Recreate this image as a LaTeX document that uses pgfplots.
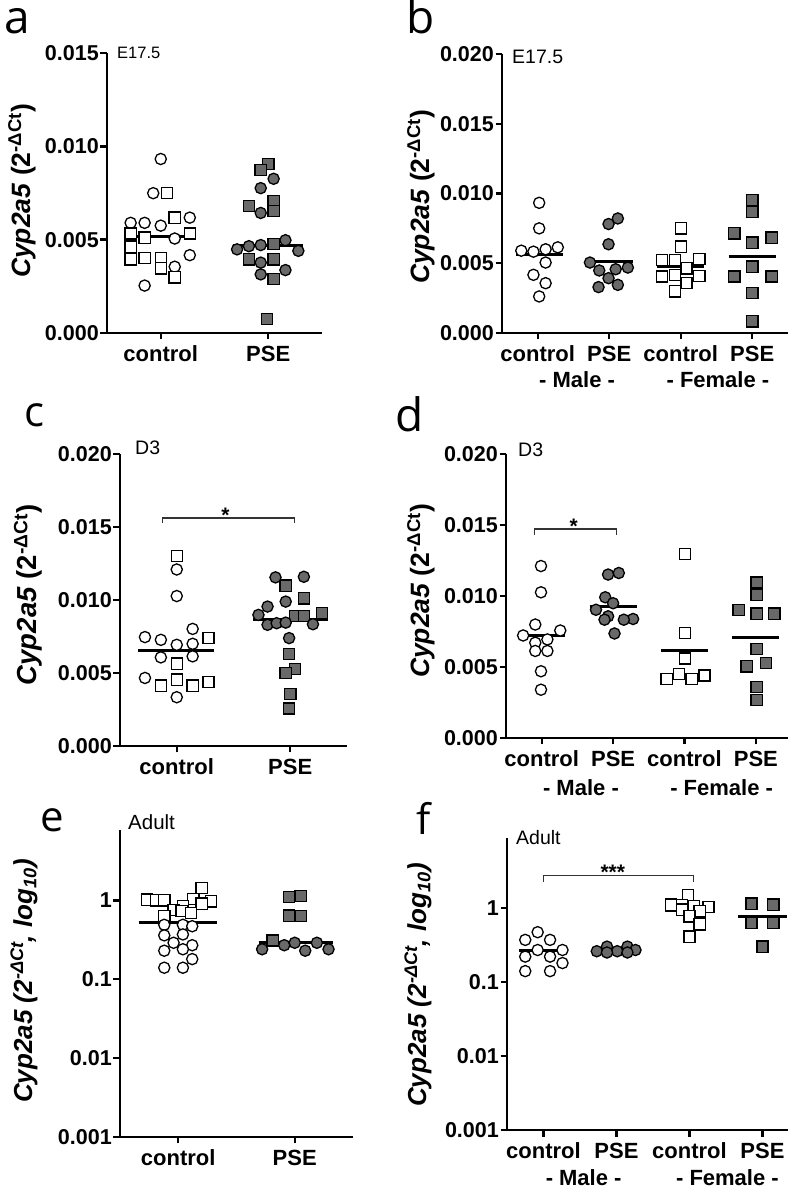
\documentclass[border=0pt]{standalone}
\usepackage{fontspec}
\setmainfont{Liberation Sans}
\newfontfamily\letterfont{Open Sans}
\usepackage{pgfplots}
\pgfplotsset{compat=1.18}
\definecolor{pgray}{RGB}{105,105,105}

\pgfplotsset{
  panel/.style={scale only axis, clip=false, axis lines*=left,
    axis line style={line width=2.6pt}, tick align=outside,
    major tick length=6.5pt, tick style={line width=2.4pt, black},
    xmin=-0.5, scaled y ticks=false,
    yticklabel style={font=\fontsize{21.5}{24}\selectfont\bfseries, inner sep=1.5pt},
    xticklabel style={font=\fontsize{22}{25}\selectfont\bfseries, yshift=-3pt}},
  oc/.style={only marks, mark=*, mark size=5.6pt, mark options={fill=white, draw=black, line width=1.3pt}},
  fc/.style={only marks, mark=*, mark size=5.6pt, mark options={fill=pgray, draw=black, line width=1.3pt}},
  os/.style={only marks, mark=square*, mark size=5.6pt, mark options={fill=white, draw=black, line width=1.3pt}},
  fs/.style={only marks, mark=square*, mark size=5.6pt, mark options={fill=pgray, draw=black, line width=1.3pt}},
  med/.style={black, line width=3pt, no marks},
}
\newcommand{\ylab}{\textbf{\textit{Cyp2a5} (2\textsuperscript{-ΔCt})}}
\newcommand{\yloglab}{\bfseries\itshape Cyp2a5 (2\textsuperscript{-ΔCt}, log\textsubscript{10})}
\newcommand{\tfont}{\fontsize{22}{25}\selectfont\bfseries}

\begin{document}
\begin{tikzpicture}
\path[use as bounding box] (0pt,0pt) rectangle (800pt,1191pt);

% ---------- a ----------
\begin{axis}[panel, at={(107pt,858pt)}, anchor=south west, width=215pt, height=280pt,
  xmax=1.5, ymin=0, ymax=0.015,
  ytick={0,0.005,0.010,0.015}, yticklabels={0.000,0.005,0.010,0.015},
  xtick={0,1}, xticklabels={control,PSE}]
\addplot[oc] coordinates {(0,0.00932) (-0.07,0.00749) (-0.28,0.00590) (-0.15,0.00590) (0,0.00575)
  (0.27,0.00618) (0.13,0.00506) (0.13,0.00355) (0.27,0.00417) (-0.15,0.00254)};
\addplot[os] coordinates {(0.06,0.00749) (0.13,0.00618) (-0.28,0.00533) (-0.15,0.00511) (0.27,0.00533)
  (-0.28,0.00462) (-0.28,0.00394) (-0.15,0.00403) (0,0.00403) (0,0.00346) (0.13,0.00298)};
\addplot[fs] coordinates {(1.0,0.00906) (0.93,0.00874) (0.82,0.00680) (1.05,0.00705) (1.05,0.00654)
  (1.05,0.00476) (0.82,0.00394) (1.05,0.00394) (1.05,0.00288) (0.99,0.00075)};
\addplot[fc] coordinates {(1.05,0.00826) (0.93,0.00776) (0.93,0.00643) (0.71,0.00448) (0.82,0.00465)
  (0.93,0.00471) (1.16,0.00497) (1.28,0.00440) (0.93,0.00377) (0.93,0.00314) (1.16,0.00337)};
\addplot[med] coordinates {(-0.33,0.00515) (0.33,0.00515)};
\addplot[med] coordinates {(0.67,0.00471) (1.32,0.00471)};
\end{axis}

% ---------- b ----------
\begin{axis}[panel, at={(502pt,858pt)}, anchor=south west, width=286pt, height=279pt,
  xmax=3.5, ymin=0, ymax=0.020,
  ytick={0,0.005,0.010,0.015,0.020}, yticklabels={0.000,0.005,0.010,0.015,0.020},
  xtick={0,1,2,3}, xticklabels={control,PSE,control,PSE}]
\addplot[oc] coordinates {(0.02,0.00933) (0.02,0.00750) (-0.23,0.00590) (-0.06,0.00583) (0.11,0.00600)
  (0.28,0.00614) (0.11,0.00505) (-0.06,0.00417) (0.11,0.00357) (0.02,0.00262)};
\addplot[fc] coordinates {(1.12,0.00821) (0.99,0.00781) (0.99,0.00636) (0.73,0.00505) (0.86,0.00448)
  (1.09,0.00457) (1.26,0.00469) (0.99,0.00393) (0.85,0.00329) (1.12,0.00345)};
\addplot[os] coordinates {(2.0,0.00750) (2.0,0.00619) (1.74,0.00524) (1.92,0.00524) (2.26,0.00529)
  (2.08,0.00464) (1.74,0.00405) (1.92,0.00417) (2.26,0.00410) (2.08,0.00357) (1.92,0.00298)};
\addplot[fs] coordinates {(3.0,0.00952) (3.0,0.00869) (2.75,0.00714) (3.27,0.00683) (3.0,0.00648)
  (3.0,0.00476) (2.75,0.00405) (3.27,0.00405) (3.0,0.00286) (3.0,0.00083)};
\addplot[med] coordinates {(-0.31,0.00560) (0.35,0.00560)};
\addplot[med] coordinates {(0.69,0.00512) (1.33,0.00512)};
\addplot[med] coordinates {(1.67,0.00476) (2.33,0.00476)};
\addplot[med] coordinates {(2.67,0.00548) (3.33,0.00548)};
\node[font=\tfont] at (axis cs:0.55,0) [yshift=-47pt] {- Male -};
\node[font=\tfont] at (axis cs:2.52,0) [yshift=-47pt] {- Female -};
\end{axis}

% ---------- c ----------
\begin{axis}[panel, at={(120pt,445pt)}, anchor=south west, width=227pt, height=292pt,
  xmax=1.5, ymin=0, ymax=0.020,
  ytick={0,0.005,0.010,0.015,0.020}, yticklabels={0.000,0.005,0.010,0.015,0.020},
  xtick={0,1}, xticklabels={control,PSE}]
\addplot[oc] coordinates {(0,0.01209) (0,0.01027) (-0.28,0.00746) (-0.14,0.00727) (0.14,0.00802)
  (0,0.00693) (0.14,0.00700) (-0.14,0.00607) (0.14,0.00614) (-0.28,0.00466) (0,0.00334)};
\addplot[os] coordinates {(0,0.01300) (0.28,0.00739) (0,0.00564) (-0.14,0.00414) (0,0.00455)
  (0.14,0.00414) (0.28,0.00439)};
\addplot[fs] coordinates {(0.96,0.01098) (1.12,0.01011) (1.04,0.00891) (1.12,0.00891) (1.28,0.00909)
  (0.99,0.00630) (1.04,0.00527) (0.96,0.00500) (1.0,0.00357) (0.99,0.00257)};
\addplot[fc] coordinates {(0.87,0.01155) (1.12,0.01159) (0.80,0.00955) (0.96,0.00989) (0.72,0.00898)
  (0.80,0.00830) (0.88,0.00841) (0.96,0.00845) (1.2,0.00834) (0.99,0.00739)};
\addplot[med] coordinates {(-0.34,0.00655) (0.33,0.00655)};
\addplot[med] coordinates {(0.67,0.00868) (1.33,0.00868)};
\draw[line width=1.2pt, black!80] (axis cs:-0.125,0.01527) |- (axis cs:1.04,0.01562) -- (axis cs:1.04,0.01527);
\node[font=\fontsize{21}{21}\selectfont\bfseries, anchor=base, yshift=-5pt] at (axis cs:0.43,0.01562) {*};
\end{axis}

% ---------- d ----------
\begin{axis}[panel, at={(506pt,453pt)}, anchor=south west, width=282pt, height=284pt,
  xmax=3.45, ymin=0, ymax=0.020,
  ytick={0,0.005,0.010,0.015,0.020}, yticklabels={0.000,0.005,0.010,0.015,0.020},
  xtick={0,1,2,3}, xticklabels={control,PSE,control,PSE}]
\addplot[oc] coordinates {(-0.01,0.01211) (-0.01,0.01026) (-0.09,0.00799) (-0.26,0.00722) (0.26,0.00757)
  (0.08,0.00694) (-0.09,0.00671) (0.08,0.00613) (-0.09,0.00613) (-0.01,0.00470) (-0.01,0.00340)};
\addplot[fc] coordinates {(0.93,0.01151) (1.08,0.01162) (0.89,0.00991) (1.0,0.00949) (0.76,0.00903)
  (0.93,0.00857) (1.28,0.00838) (1.15,0.00833) (0.88,0.00833) (1.02,0.00736)};
\addplot[os] coordinates {(2.01,0.01296) (2.01,0.00741) (2.01,0.00560) (1.75,0.00417) (1.92,0.00451)
  (2.1,0.00417) (2.28,0.00440)};
\addplot[fs] coordinates {(3.01,0.01095) (3.01,0.01007) (2.76,0.00903) (3.01,0.00875) (3.26,0.00875)
  (3.01,0.00625) (2.87,0.00505) (3.14,0.00528) (3.01,0.00359) (3.01,0.00266)};
\addplot[med] coordinates {(-0.33,0.00725) (0.33,0.00725)};
\addplot[med] coordinates {(0.67,0.00926) (1.33,0.00926)};
\addplot[med] coordinates {(1.67,0.00618) (2.33,0.00618)};
\addplot[med] coordinates {(2.67,0.00706) (3.33,0.00706)};
\draw[line width=1.2pt, black!80] (axis cs:-0.1,0.0143) |- (axis cs:1.05,0.01472) -- (axis cs:1.05,0.0143);
\node[font=\fontsize{21}{21}\selectfont\bfseries, anchor=base, yshift=-5pt] at (axis cs:0.45,0.01472) {*};
\node[font=\tfont] at (axis cs:0.55,0) [yshift=-50pt] {- Male -};
\node[font=\tfont] at (axis cs:2.52,0) [yshift=-50pt] {- Female -};
\end{axis}

% ---------- e ----------
\begin{axis}[panel, at={(120pt,54pt)}, anchor=south west, width=233pt, height=307pt,
  xmax=1.5, ymode=log, ymin=0.001, ymax=7.8, yminorticks=false,
  ytick={0.001,0.01,0.1,1}, yticklabels={0.001,0.01,0.1,1},
  xtick={0,1}, xticklabels={control,PSE}]
\addplot[os] coordinates {(-0.27,1.02) (-0.19,1.0) (-0.12,1.0) (0.2,1.43) (0.13,1.04) (0.28,0.97)
  (0.2,0.91) (0.04,0.84) (-0.04,0.76) (0.03,0.73) (0.11,0.69) (-0.12,0.63)};
\addplot[oc] coordinates {(-0.12,0.49) (0.04,0.49) (0.12,0.47) (-0.12,0.36) (0.04,0.37) (-0.04,0.29)
  (0.12,0.27) (-0.12,0.23) (0.04,0.24) (0.12,0.18) (-0.12,0.14) (0.04,0.14)};
\addplot[fs] coordinates {(0.95,1.10) (1.05,1.14) (0.95,0.64) (1.05,0.63) (0.81,0.31)};
\addplot[fc] coordinates {(0.72,0.24) (0.91,0.27) (1.0,0.29) (1.09,0.23) (1.19,0.29) (1.29,0.24)};
\addplot[med] coordinates {(-0.34,0.53) (0.33,0.53)};
\addplot[med] coordinates {(0.69,0.29) (1.33,0.29)};
\end{axis}

% ---------- f ----------
\begin{axis}[panel, at={(507pt,61pt)}, anchor=south west, width=281pt, height=292pt,
  xmax=3.35, ymode=log, ymin=0.001, ymax=8.8, yminorticks=false,
  ytick={0.001,0.01,0.1,1}, yticklabels={0.001,0.01,0.1,1},
  xtick={0,1,2,3}, xticklabels={control,PSE,control,PSE}]
\addplot[oc] coordinates {(-0.08,0.47) (-0.25,0.37) (0.09,0.37) (-0.08,0.27) (0.26,0.27) (-0.25,0.22)
  (0.09,0.22) (0.26,0.18) (-0.25,0.14) (0.09,0.14)};
\addplot[fc] coordinates {(0.73,0.26) (0.87,0.30) (1.01,0.26) (1.15,0.30) (1.26,0.27) (0.87,0.25) (1.15,0.25)};
\addplot[os] coordinates {(1.98,1.48) (1.75,1.11) (1.9,1.08) (2.06,1.05) (2.26,1.03) (2.14,0.90)
  (1.9,0.95) (2.0,0.77) (2.14,0.60) (2.0,0.41)};
\addplot[fs] coordinates {(2.85,1.14) (3.15,1.11) (2.85,0.63) (3.15,0.63) (3.0,0.30)};
\addplot[med] coordinates {(-0.33,0.27) (0.33,0.27)};
\addplot[med] coordinates {(0.67,0.26) (1.33,0.26)};
\addplot[med] coordinates {(1.67,0.93) (2.33,0.93)};
\addplot[med] coordinates {(2.67,0.77) (3.33,0.77)};
\draw[line width=1.2pt, black!80] (axis cs:0,2.27) |- (axis cs:2.05,2.71) -- (axis cs:2.05,2.27);
\node[font=\fontsize{21}{21}\selectfont\bfseries, anchor=base, yshift=-4pt] at (axis cs:0.95,2.71) {***};
\node[font=\tfont] at (axis cs:0.55,0.001) [yshift=-48pt] {- Male -};
\node[font=\tfont] at (axis cs:2.52,0.001) [yshift=-48pt] {- Female -};
\end{axis}

% panel letters
\node[font=\letterfont\fontsize{46}{46}\selectfont, anchor=base west, inner sep=0pt] at (4pt,1157pt) {a};
\node[font=\letterfont\fontsize{46}{46}\selectfont, anchor=base west, inner sep=0pt] at (406pt,1157pt) {b};
\node[font=\letterfont\fontsize{42}{42}\selectfont, anchor=base west, inner sep=0pt] at (24pt,764pt) {c};
\node[font=\letterfont\fontsize{46}{46}\selectfont, anchor=base west, inner sep=0pt] at (395pt,759pt) {d};
\node[font=\letterfont\fontsize{42}{42}\selectfont, anchor=base west, inner sep=0pt] at (40pt,359pt) {e};
\node[font=\letterfont\fontsize{42}{42}\selectfont, anchor=base west, inner sep=0pt] at (416pt,356pt) {f};

% stage labels
\node[font=\fontsize{16.5}{17}\selectfont, anchor=west, inner sep=0pt] at (117pt,1138pt) {E17.5};
\node[font=\fontsize{19.5}{20}\selectfont, anchor=west, inner sep=0pt] at (512pt,1134pt) {E17.5};
\node[font=\fontsize{19.5}{20}\selectfont, anchor=west, inner sep=0pt] at (135pt,743pt) {D3};
\node[font=\fontsize{19.5}{20}\selectfont, anchor=west, inner sep=0pt] at (518pt,741pt) {D3};
\node[font=\fontsize{20.5}{21}\selectfont, anchor=west, inner sep=0pt] at (128pt,369pt) {Adult};
\node[font=\fontsize{19.5}{20}\selectfont, anchor=west, inner sep=0pt] at (516pt,353pt) {Adult};

% y labels
\node[rotate=90, font=\fontsize{26.5}{27}\selectfont] at (22pt,1000pt) {\ylab};
\node[rotate=90, font=\fontsize{26.5}{27}\selectfont] at (421pt,994pt) {\ylab};
\node[rotate=90, font=\fontsize{27.5}{28}\selectfont] at (28pt,596pt) {\ylab};
\node[rotate=90, font=\fontsize{26.5}{27}\selectfont] at (421pt,600pt) {\ylab};
\node[rotate=90, font=\fontsize{26}{26}\selectfont] at (24pt,210pt) {\yloglab};
\node[rotate=90, font=\fontsize{26}{26}\selectfont] at (418pt,206pt) {\yloglab};
\end{tikzpicture}
\end{document}
